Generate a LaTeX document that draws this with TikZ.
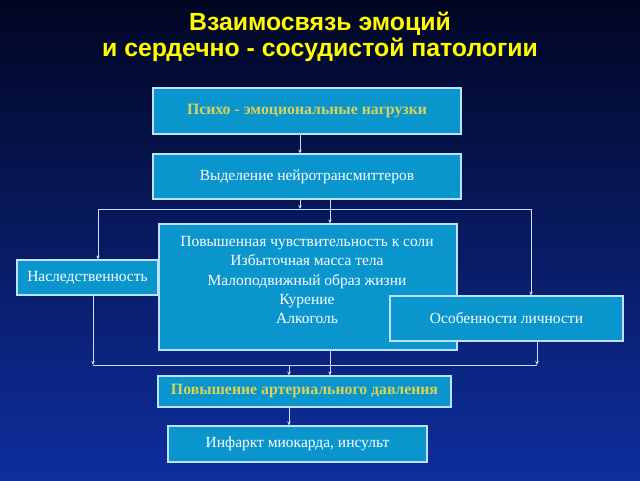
\documentclass[tikz,border=0pt]{standalone}
\usepackage{fontspec}
\setmainfont{Liberation Serif}
\newfontfamily\titlefont{Liberation Sans}
\usetikzlibrary{arrows.meta}
\definecolor{boxfill}{RGB}{10,150,205}
\definecolor{boxline}{RGB}{190,225,250}
\definecolor{lineclr}{RGB}{205,220,255}
\definecolor{ttl}{RGB}{255,255,0}
\definecolor{ylw}{RGB}{215,210,90}
\definecolor{bgtop}{RGB}{2,6,35}
\definecolor{bgmid}{RGB}{10,36,140}
\definecolor{bgbot}{RGB}{14,46,158}
\begin{document}
\begin{tikzpicture}[x=1pt,y=-1pt,
  box/.style={draw=boxline,fill=boxfill,line width=1.2pt,inner sep=0pt,text=white,font=\fontsize{15.5}{17}\selectfont},
  ybox/.style={box,text=ylw,font=\fontsize{15.8}{17}\selectfont\bfseries},
  conn/.style={draw=lineclr,line width=1pt},
  arr/.style={conn,-{Stealth[length=4pt,width=3.5pt]}},
  ttlstyle/.style={text=ttl,font=\titlefont\bfseries\fontsize{24.8}{28}\selectfont}]
\shade[top color=bgtop,middle color=bgmid,bottom color=bgbot] (0,0) rectangle (640,480);
\useasboundingbox (0,0) rectangle (640,480);
% title
\node[ttlstyle] (t1) at (320,24) {Взаимосвязь эмоций};
\node[ttlstyle] (t2) at (320,50) {и сердечно - сосудистой патологии};
% boxes
\node[ybox,minimum width=308pt,minimum height=46pt] (p1) at (307,111) {Психо - эмоциональные нагрузки};
\node[box,minimum width=308pt,minimum height=45pt] (p2) at (307,176.5) {Выделение нейротрансмиттеров};
\node[box,minimum width=141pt,minimum height=35pt] (nasl) at (87.5,277.5) {Наследственность};
\node[box,minimum width=298pt,minimum height=126pt] (mid) at (308,287) {};
\node[text=white,font=\fontsize{15.5}{19.3}\selectfont,align=center,inner sep=0pt] (midtext) at (307,280)
  {Повышенная чувствительность к соли\\Избыточная масса тела\\Малоподвижный образ жизни\\Курение\\Алкоголь};
\node[box,minimum width=233pt,minimum height=45pt] (osob) at (506.5,318.5) {Особенности личности};
\node[ybox,minimum width=293pt,minimum height=31pt] (pov) at (304.5,391.5) {Повышение артериального давления};
\node[box,minimum width=259pt,minimum height=36pt] (inf) at (297.5,444) {Инфаркт миокарда, инсульт};
% coordinates for columns and rows
\coordinate (cA) at (300,0);
\coordinate (cB) at (330,0);
\coordinate (cC) at (289,0);
\coordinate (cL) at (98,0);
\coordinate (cR) at (531,0);
\coordinate (cL2) at (93,0);
\coordinate (cR2) at (537,0);
\coordinate (htop) at (0,209);
\coordinate (hbot) at (0,365);
% connectors
\draw[arr] (p1.south -| cA) -- (p2.north -| cA);
\draw[arr] (p2.south -| cA) -- (htop -| cA);
\draw[arr] (p2.south -| cB) -- (mid.north -| cB);
\draw[arr] (htop -| cR) -- (htop -| cL) -- (nasl.north -| cL);
\draw[arr] (htop -| cR) -- (osob.north -| cR);
\draw[arr] (nasl.south -| cL2) -- (hbot -| cL2);
\draw[conn] (hbot -| cL2) -- (hbot -| cR2);
\draw[arr] (osob.south -| cR2) -- (hbot -| cR2);
\draw[arr] (hbot -| cC) -- (pov.north -| cC);
\draw[arr] (mid.south -| cB) -- (pov.north -| cB);
\draw[arr] (pov.south -| cC) -- (inf.north -| cC);
\end{tikzpicture}
\end{document}
